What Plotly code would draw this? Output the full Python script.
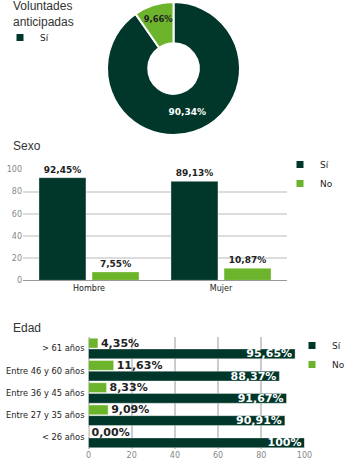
import plotly.graph_objects as go

W, H = 351, 462
DARK = "#00372a"
LIGHT = "#6cb42c"
FONT = "DejaVu Sans"

# ---- data ----
pie_labels = ["Sí", "No"]
pie_values = [90.34, 9.66]

series_names = ["Sí", "No"]
sexo_cats = ["Hombre", "Mujer"]
sexo_si = [92.45, 89.13]
sexo_no = [7.55, 10.87]

edad_cats = ["< 26 años", "Entre 27 y 35 años", "Entre 36 y 45 años",
             "Entre 46 y 60 años", "> 61 años"]
edad_si = [100, 90.91, 91.67, 88.37, 95.65]
edad_no = [0.00, 9.09, 8.33, 11.63, 4.35]

axis_ticks = [0, 20, 40, 60, 80, 100]


def fmt(v):
    if v == 100:
        return "100%"
    return f"{v:.2f}".replace(".", ",") + "%"


def px_x(p):
    return p / W


def px_y(p):
    return 1 - p / H


fig = go.Figure()

# ---- donut ----
fig.add_trace(go.Pie(
    labels=pie_labels, values=pie_values, hole=0.38, sort=False,
    direction="clockwise", rotation=0,
    marker=dict(colors=[DARK, LIGHT], line=dict(color="white", width=2)),
    text=[fmt(v) for v in pie_values], textinfo="text",
    textposition="inside", insidetextorientation="horizontal",
    textfont=dict(color=["white", "#222"], family=FONT, size=9, weight="bold"),
    showlegend=False, hoverinfo="label+percent",
    domain=dict(x=[px_x(107), px_x(240)], y=[px_y(135), px_y(2)]),
))

# ---- Sexo bars ----
colors = [DARK, LIGHT]
offsets_v = [-0.379, 0.023]
for name, vals, col, off in zip(series_names, [sexo_si, sexo_no], colors, offsets_v):
    fig.add_trace(go.Bar(
        x=sexo_cats, y=vals, name=name, xaxis="x", yaxis="y",
        width=0.356, offset=off,
        marker=dict(color=col, line=dict(color="rgba(255,255,255,0.35)", width=1)),
        text=[fmt(v) for v in vals], textposition="outside",
        textfont=dict(color="#222", family=FONT, size=9, weight="bold"),
        constraintext="none", cliponaxis=False, showlegend=False,
    ))

# ---- Edad bars ----
offsets_h = [-0.46, 0.02]
for name, vals, col, off in zip(series_names, [edad_si, edad_no], colors, offsets_h):
    fig.add_trace(go.Bar(
        y=edad_cats, x=vals, name=name, orientation="h", xaxis="x2", yaxis="y2",
        width=0.44, offset=off,
        marker=dict(color=col, line=dict(color="rgba(255,255,255,0.35)", width=1)),
        text=[fmt(v) for v in vals],
        textposition="inside" if name == "Sí" else "outside",
        insidetextanchor="end", textangle=0,
        textfont=dict(color="white" if name == "Sí" else "#222", family=FONT, size=11, weight="bold"),
        constraintext="none", cliponaxis=False, showlegend=False,
    ))

# ---- legend entries ----
fig.add_trace(go.Scatter(x=[None], y=[None], mode="markers", name=pie_labels[0],
                         marker=dict(symbol="square", size=7, color=DARK),
                         xaxis="x", yaxis="y", legend="legend"))
for name, col in zip(series_names, colors):
    fig.add_trace(go.Scatter(x=[None], y=[None], mode="markers", name=name,
                             marker=dict(symbol="square", size=7, color=col),
                             xaxis="x", yaxis="y", legend="legend2"))
for name, col in zip(series_names, colors):
    fig.add_trace(go.Scatter(x=[None], y=[None], mode="markers", name=name,
                             marker=dict(symbol="square", size=7, color=col),
                             xaxis="x2", yaxis="y2", legend="legend3"))

leg_common = dict(font=dict(family=FONT, size=9, color="#222"), bgcolor="rgba(0,0,0,0)",
                  xanchor="left", yanchor="top", tracegroupgap=0, itemclick=False)

fig.update_layout(
    width=W, height=H, margin=dict(l=0, r=0, t=0, b=0, autoexpand=False),
    paper_bgcolor="white", plot_bgcolor="white",
    font=dict(family=FONT, size=9, color="#333"),
    showlegend=True, barmode="group",
    legend=dict(x=0, y=px_y(23), **leg_common),
    legend2=dict(x=px_x(280), y=px_y(150), **leg_common),
    legend3=dict(x=px_x(292), y=px_y(331), **leg_common),
    xaxis=dict(domain=[px_x(23), px_x(287)], anchor="y", showgrid=False,
               showline=True, linecolor="#999", linewidth=1, ticks="",
               tickfont=dict(family=FONT, size=8, color="#222"), fixedrange=True),
    yaxis=dict(domain=[px_y(280.3), px_y(169.3)], anchor="x", range=[0, 100],
               tickvals=axis_ticks, showgrid=True, gridcolor="#dcdcdc", gridwidth=2,
               zeroline=False, ticks="", tickfont=dict(family=FONT, size=8, color="#888"),
               fixedrange=True),
    xaxis2=dict(domain=[px_x(88.5), px_x(304.5)], anchor="y2", range=[0, 100],
                tickvals=axis_ticks, showgrid=True, gridcolor="#cccccc", gridwidth=2,
                zeroline=True, zerolinecolor="#cccccc", zerolinewidth=2, ticks="",
                tickfont=dict(family=FONT, size=8, color="#888"), fixedrange=True),
    yaxis2=dict(domain=[px_y(448.6), px_y(337.4)], anchor="x2",
                categoryorder="array", categoryarray=edad_cats,
                showgrid=False, ticks="", ticklabelstandoff=3,
                tickfont=dict(family=FONT, size=8.3, color="#222"), fixedrange=True),
    annotations=[
        dict(text="Voluntades<br>anticipadas", xref="paper", yref="paper",
             x=px_x(11), y=px_y(-3), xanchor="left", yanchor="top", showarrow=False,
             align="left", font=dict(family="Liberation Sans", size=12, color="#333")),
        dict(text="Sexo", xref="paper", yref="paper", x=px_x(11), y=px_y(146),
             xanchor="left", yanchor="middle", showarrow=False,
             font=dict(family="Liberation Sans", size=12, color="#333")),
        dict(text="Edad", xref="paper", yref="paper", x=px_x(11), y=px_y(328),
             xanchor="left", yanchor="middle", showarrow=False,
             font=dict(family="Liberation Sans", size=12, color="#333")),
    ],
)

fig.write_html("out.html")
